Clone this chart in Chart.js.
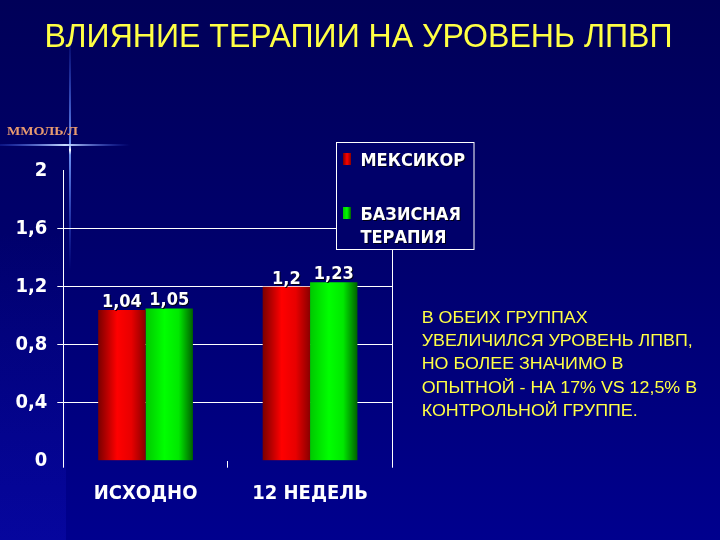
<!DOCTYPE html>
<html><head><meta charset="utf-8">
<script src="https://cdn.jsdelivr.net/npm/chart.js@4.4.1/dist/chart.umd.min.js"></script>
<style>html,body{margin:0;padding:0;background:#000070;overflow:hidden}#wrap{width:720px;height:540px}</style>
</head><body><div id="wrap"><canvas id="c" width="720" height="540"></canvas></div>
<script>
const categories = ['ИСХОДНО', '12 НЕДЕЛЬ'];
const mexicorValues = [1.04, 1.2];
const basicValues = [1.05, 1.23];
const seriesNames = [['МЕКСИКОР'], ['БАЗИСНАЯ', 'ТЕРАПИЯ']];
const yTicks = [0, 0.4, 0.8, 1.2, 1.6, 2];
const titleText = 'ВЛИЯНИЕ ТЕРАПИИ НА УРОВЕНЬ ЛПВП';
const unitText = 'ММОЛЬ/Л';
const noteLines = ['В ОБЕИХ ГРУППАХ', 'УВЕЛИЧИЛСЯ УРОВЕНЬ ЛПВП,', 'НО БОЛЕЕ ЗНАЧИМО В', 'ОПЫТНОЙ - НА 17% VS 12,5% В', 'КОНТРОЛЬНОЙ ГРУППЕ.'];

const redStops = ['#7a0000', '#ff0000', '#e80000', '#8a0000'];
const greenStops = ['#00c800', '#00ff00', '#00e800', '#006000'];
const CAT_PCT = 0.576;
const fmt = v => String(v).replace('.', ',');

function barGradient(ctx, stops) {
  const chart = ctx.chart; const x = chart.scales && chart.scales.x;
  if (!x || !x.width || ctx.dataIndex == null) return stops[1];
  const cw = x.width / categories.length, gw = cw * CAT_PCT, bw = gw / 2;
  const cx = x.getPixelForValue(ctx.dataIndex);
  const left = cx - gw / 2 + ctx.datasetIndex * bw;
  const g = chart.ctx.createLinearGradient(left, 0, left + bw, 0);
  g.addColorStop(0, stops[0]); g.addColorStop(0.4, stops[1]);
  g.addColorStop(0.7, stops[2]); g.addColorStop(1, stops[3]);
  return g;
}

function fitText(ctx, text, x, y, width, align) {
  const w = ctx.measureText(text).width;
  const sx = width / w;
  ctx.save(); ctx.translate(x, y); ctx.scale(sx, 1);
  ctx.textAlign = align; ctx.fillText(text, 0, 0); ctx.restore();
}

const decor = {
  id: 'decor',
  beforeDraw(chart) {
    const c = chart.ctx;
    c.save();
    let g = c.createLinearGradient(0, 0, 0, 540);
    g.addColorStop(0, '#000058'); g.addColorStop(0.45, '#00006c'); g.addColorStop(1, '#00008e');
    c.fillStyle = g; c.fillRect(0, 0, 720, 540);
    g = c.createLinearGradient(0, 230, 0, 540);
    g.addColorStop(0, 'rgba(30,30,220,0)'); g.addColorStop(1, 'rgba(30,30,220,0.2)');
    c.fillStyle = g; c.fillRect(0, 230, 66, 310);
    // flare
    g = c.createLinearGradient(0, 30, 0, 270);
    g.addColorStop(0, 'rgba(60,100,255,0)'); g.addColorStop(0.48, 'rgba(120,160,255,0.9)');
    g.addColorStop(0.5, 'rgba(255,255,255,1)'); g.addColorStop(0.52, 'rgba(120,160,255,0.9)');
    g.addColorStop(1, 'rgba(60,100,255,0)');
    c.fillStyle = g; c.fillRect(69, 30, 2, 240);
    g = c.createLinearGradient(0, 0, 130, 0);
    g.addColorStop(0, 'rgba(60,100,255,0.2)'); g.addColorStop(0.5, 'rgba(200,220,255,1)');
    g.addColorStop(1, 'rgba(60,100,255,0)');
    c.fillStyle = g; c.fillRect(0, 144, 130, 2);
    c.restore();
  },
  afterDatasetsDraw(chart) {
    const c = chart.ctx;
    c.save();
    c.font = 'bold 18px "DejaVu Sans Condensed"';
    c.fillStyle = '#ffffff'; c.textAlign = 'center'; c.textBaseline = 'alphabetic';
    c.shadowColor = 'rgba(0,0,0,0.8)'; c.shadowOffsetX = 1; c.shadowOffsetY = 1;
    chart.data.datasets.forEach((ds, di) => {
      chart.getDatasetMeta(di).data.forEach((el, i) => {
        c.fillText(fmt(ds.data[i]), el.x, el.y - 3);
      });
    });
    c.restore();
  },
  afterDraw(chart) {
    const c = chart.ctx;
    c.save();
    // title
    c.fillStyle = '#ffff44'; c.textBaseline = 'alphabetic';
    c.font = '33px "Liberation Sans"';
    fitText(c, titleText, 358.5, 46.7, 628, 'center');
    // unit
    c.fillStyle = '#e89a70';
    c.font = 'bold 13px "Liberation Serif"';
    fitText(c, unitText, 7, 134.5, 71, 'left');
    // note
    c.fillStyle = '#ffff44';
    c.font = '16px "Liberation Sans"';
    const base = [322.7, 346, 369.3, 392.6, 415.9];
    const w1 = c.measureText(noteLines[1]).width;
    const sx = 271 / w1;
    noteLines.forEach((t, i) => {
      c.save(); c.translate(421.7, base[i]); c.scale(sx, 1); c.textAlign = 'left'; c.fillText(t, 0, 0); c.restore();
    });
    // legend
    c.fillStyle = '#00006a';
    c.fillRect(336.5, 142.5, 137.5, 107);
    c.strokeStyle = '#ffffff'; c.lineWidth = 1;
    c.strokeRect(336.5, 142.5, 137.5, 107);
    const markers = [[343, 153], [343, 207]];
    const textY = [[165.5], [219.5, 242.5]];
    c.font = 'bold 18px "DejaVu Sans Condensed"';
    chart.data.datasets.forEach((ds, di) => {
      const stops = di === 0 ? redStops : greenStops;
      const [mx, my] = markers[di];
      const g = c.createLinearGradient(mx, 0, mx + 8, 0);
      g.addColorStop(0, stops[0]); g.addColorStop(0.5, stops[1]); g.addColorStop(1, stops[3]);
      c.fillStyle = g; c.fillRect(mx, my, 8, 12);
      c.fillStyle = '#ffffff'; c.textAlign = 'left';
      c.shadowColor = 'rgba(0,0,0,0.8)'; c.shadowOffsetX = 1; c.shadowOffsetY = 1;
      seriesNames[di].forEach((t, k) => c.fillText(t, 360.5, textY[di][k]));
      c.shadowColor = 'transparent';
    });
    c.restore();
  }
};

new Chart(document.getElementById('c'), {
  type: 'bar',
  data: {
    labels: categories,
    datasets: [
      { label: seriesNames[0].join(' '), data: mexicorValues, backgroundColor: ctx => barGradient(ctx, redStops), borderWidth: 0 },
      { label: seriesNames[1].join(' '), data: basicValues, backgroundColor: ctx => barGradient(ctx, greenStops), borderWidth: 0 }
    ]
  },
  options: {
    responsive: false, animation: false, devicePixelRatio: 1,
    layout: { padding: { top: 170.7, left: 0, right: 0, bottom: 0 } },
    datasets: { bar: { categoryPercentage: CAT_PCT, barPercentage: 1 } },
    plugins: { legend: { display: false }, tooltip: { enabled: false }, title: { display: false } },
    scales: {
      x: {
        offset: true,
        grid: { display: true, offset: true, drawOnChartArea: false, drawTicks: true, tickLength: 7, color: '#ffffff', lineWidth: 1 },
        border: { display: false },
        ticks: { color: '#ffffff', font: { family: '"DejaVu Sans Condensed"', weight: 'bold', size: 20 }, padding: 14, maxRotation: 0, autoSkip: false },
        afterFit(s) { s.height = 540 - 460.7; }
      },
      y: {
        min: 0, max: 2,
        afterBuildTicks(s) { s.ticks = yTicks.map(v => ({ value: v })); },
        grid: {
          color: c => (c.tick && c.tick.value > 0 && c.tick.value < 2) ? '#ffffff' : 'rgba(0,0,0,0)',
          tickColor: c => (c.tick && c.tick.value > 0 && c.tick.value < 2) ? '#ffffff' : 'rgba(0,0,0,0)',
          tickLength: 6, lineWidth: 1
        },
        border: { display: true, color: '#ffffff', width: 1 },
        ticks: { color: '#ffffff', font: { family: '"DejaVu Sans Condensed"', weight: 'bold', size: 20 }, padding: 10, callback: v => fmt(v) },
        afterFit(s) { s.width = 63.3; }
      },
      y2: {
        position: 'right', min: 0, max: 2,
        grid: { display: false },
        ticks: { display: false },
        border: { display: true, color: '#ffffff', width: 1 },
        afterFit(s) { s.width = 720 - 392.3; }
      }
    }
  },
  plugins: [decor]
});
</script>
</body></html>
